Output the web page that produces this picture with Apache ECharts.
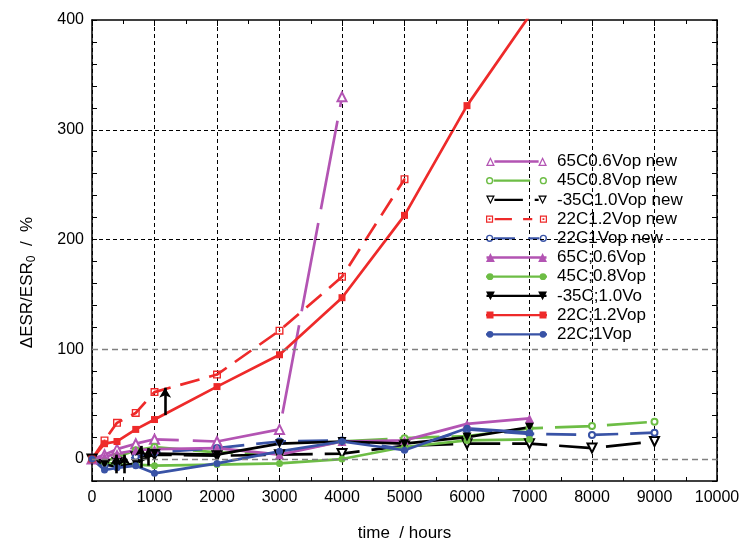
<!DOCTYPE html>
<html>
<head>
<meta charset="utf-8">
<script src="https://cdn.jsdelivr.net/npm/echarts@6/dist/echarts.min.js"></script>
<style>
  html, body { margin: 0; padding: 0; background: #fff; }
  #chart { width: 742px; height: 539px; }
</style>
</head>
<body>
<div id="chart"></div>
<script>
// ---- measured ESR change (%) versus ageing time (hours) ----
const hoursPurpleNew = [0, 200, 400, 700, 1000, 2000, 3000, 4000];
const esrPurpleNew   = [0, 4, 9, 14, 18, 16, 27, 330];

const hoursGreenNew = [0, 200, 400, 700, 1000, 2000, 3000, 4000, 5000, 6000, 7000, 8000, 9000];
const esrGreenNew   = [0, -3, 2, 8, 11, 6, 5, 16, 19, 21, 28, 30, 34];

const hoursBlackNew = [0, 200, 400, 700, 1000, 2000, 3000, 4000, 5000, 6000, 7000, 8000, 9000];
const esrBlackNew   = [0, -5, -3, 2, 4, 3, 4, 5, 12, 14, 14, 10, 16];

const hoursRedNew = [0, 200, 400, 700, 1000, 2000, 3000, 4000, 5000];
const esrRedNew   = [0, 17, 33, 42, 61, 77, 117, 166, 255];

const hoursBlueNew = [0, 200, 400, 700, 1000, 2000, 3000, 4000, 5000, 6000, 7000, 8000, 9000];
const esrBlueNew   = [0, -6, -4, 2, 6, 10, 16, 17, 9, 27, 23, 22, 24];

const hoursPurple = [0, 200, 400, 700, 1000, 2000, 3000, 4000, 5000, 6000, 7000];
const esrPurple   = [0, 2, 5, 8, 9, 10, 4, 16, 17, 32, 37];

const hoursGreen = [0, 200, 400, 700, 1000, 2000, 3000, 4000, 5000, 6000, 7000];
const esrGreen   = [0, -3, -5, -5, -6, -5, -4, 0, 11, 17, 18];

const hoursBlack = [0, 200, 400, 700, 1000, 2000, 3000, 4000, 5000, 6000, 7000];
const esrBlack   = [0, -5, -7, -4, 5, 4, 14, 16, 14, 20, 29];

const hoursRed = [0, 200, 400, 700, 1000, 2000, 3000, 4000, 5000, 6000, 7000];
const esrRed   = [0, 14, 16, 27, 36, 66, 95, 147, 222, 322, 404];

const hoursBlue = [0, 200, 400, 700, 1000, 2000, 3000, 4000, 5000, 6000, 7000];
const esrBlue   = [0, -10, -8, -6, -13, -4, 7, 16, 8, 28, 24];

// tick labels on the ESR axis
const esrTickLabels = [0, 100, 200, 300, 400];
// horizontal reference lines
const gridLevels = [0, 100, 200, 300];

// upward arrows marking readings
const arrowHours = [1170, 390, 520, 780, 900];
const arrowFrom  = [40, -13, -13, -8, -6];
const arrowTo    = [65, 4, 4, 12, 10];

const FONT = 'Liberation Sans, Arial, sans-serif';
const PURPLE = '#b354b3', GREEN = '#6dbd45', RED = '#ee2a2a', BLUE = '#3953a6', BLACK = '#000000';

// ---- legend icons: line sample with a marker at each end ----
function markerPath(kind, hollow, cx) {
  let p = '';
  if (kind === 'tri') {
    p = `M${cx-4.5} 9.5 L${cx} 0.5 L${cx+4.5} 9.5 Z`;
    if (hollow) p += ` M${cx-2.4} 8.3 L${cx+2.4} 8.3 L${cx} 3.2 Z`;
  } else if (kind === 'dtri') {
    p = `M${cx-4.5} 0.5 L${cx+4.5} 0.5 L${cx} 9.5 Z`;
    if (hollow) p += ` M${cx-2.4} 1.7 L${cx} 6.8 L${cx+2.4} 1.7 Z`;
  } else if (kind === 'sq') {
    p = `M${cx-3.5} 1.5 L${cx+3.5} 1.5 L${cx+3.5} 8.5 L${cx-3.5} 8.5 Z`;
    if (hollow) {
      p += ` M${cx-2.3} 2.7 L${cx-2.3} 7.3 L${cx+2.3} 7.3 L${cx+2.3} 2.7 Z`;
      p += ` M${cx-0.9} 4.1 L${cx+0.9} 4.1 L${cx+0.9} 5.9 L${cx-0.9} 5.9 Z`;
    }
  } else {
    const r = hollow ? 3.6 : 3.4;
    p = `M${cx-r} 5 A${r} ${r} 0 1 1 ${cx+r} 5 A${r} ${r} 0 1 1 ${cx-r} 5 Z`;
    if (hollow) {
      const q = 2.2;
      p += ` M${cx-q} 5 A${q} ${q} 0 1 0 ${cx+q} 5 A${q} ${q} 0 1 0 ${cx-q} 5 Z`;
    }
  }
  return p;
}
function legendIcon(kind, hollow, segments) {
  let p = '';
  segments.forEach(([a, b]) => { p += `M${a} 3.85 L${b} 3.85 L${b} 6.15 L${a} 6.15 Z `; });
  p += markerPath(kind, hollow, 4) + ' ' + markerPath(kind, hollow, 57);
  return 'path://' + p;
}

const squareDotSymbol = 'path://M0 0 L10 0 L10 10 L0 10 Z M1.7 1.7 L1.7 8.3 L8.3 8.3 L8.3 1.7 Z M3.9 3.9 L6.1 3.9 L6.1 6.1 L3.9 6.1 Z';

function lineSeries(name, hours, esr, color, symbol, size, dash, extra) {
  return Object.assign({
    name: name,
    type: 'line',
    data: hours.map((h, i) => [h, esr[i]]),
    symbol: symbol,
    symbolSize: size,
    showSymbol: true,
    clip: true,
    lineStyle: { color: color, width: 2.7, type: dash || 'solid' },
    itemStyle: { color: color, borderWidth: 1.4 },
    emphasis: { disabled: true },
    animation: false
  }, extra || {});
}

const series = [
  lineSeries('65C0.6Vop new', hoursPurpleNew, esrPurpleNew, PURPLE, 'emptyTriangle', 9, [90, 14], {
    markLine: {
      silent: true,
      symbol: ['none', 'none'],
      label: { show: false },
      emphasis: { disabled: true },
      animation: false,
      data: gridLevels.map(v => ({
        yAxis: v,
        lineStyle: v <= 100
          ? { color: '#808080', type: [6, 4], width: 1.3 }
          : { color: '#000000', type: [4, 3], width: 1 }
      }))
    }
  }),
  lineSeries('45C0.8Vop new', hoursGreenNew, esrGreenNew, GREEN, 'emptyCircle', 6, [40, 12]),
  lineSeries('-35C1.0Vop new', hoursBlackNew, esrBlackNew, BLACK, 'emptyTriangle', 9, [35, 12], { symbolRotate: 180 }),
  lineSeries('22C1.2Vop new', hoursRedNew, esrRedNew, RED, squareDotSymbol, 8, [20, 10], { itemStyle: { color: RED, borderWidth: 0 } }),
  lineSeries('22C1Vop new', hoursBlueNew, esrBlueNew, BLUE, 'emptyCircle', 6, [30, 12]),
  lineSeries('65C;0.6Vop', hoursPurple, esrPurple, PURPLE, 'triangle', 9),
  lineSeries('45C;0.8Vop', hoursGreen, esrGreen, GREEN, 'circle', 7),
  lineSeries('-35C;1.0Vo', hoursBlack, esrBlack, BLACK, 'triangle', 9, null, {
    symbolRotate: 180,
    markLine: {
      silent: true,
      label: { show: false },
      emphasis: { disabled: true },
      animation: false,
      symbolSize: [9, 10],
      lineStyle: { color: BLACK, width: 2.6, type: 'solid' },
      data: arrowHours.map((h, i) => [
        { coord: [h, arrowFrom[i]], symbol: 'none' },
        { coord: [h, arrowTo[i]], symbol: 'arrow' }
      ])
    }
  }),
  lineSeries('22C;1.2Vop', hoursRed, esrRed, RED, 'rect', 7),
  lineSeries('22C;1Vop', hoursBlue, esrBlue, BLUE, 'circle', 7)
];

const legendSpec = [
  ['65C0.6Vop new', PURPLE, 'tri', true, [[8, 53]]],
  ['45C0.8Vop new', GREEN, 'circ', true, [[8, 44]]],
  ['-35C1.0Vop new', BLACK, 'dtri', true, [[8, 37], [49, 53]]],
  ['22C1.2Vop new', RED, 'sq', true, [[9, 26], [37, 46]]],
  ['22C1Vop new', BLUE, 'circ', true, [[8, 29], [42, 53]]],
  ['65C;0.6Vop', PURPLE, 'tri', false, [[0, 61]]],
  ['45C;0.8Vop', GREEN, 'circ', false, [[0, 61]]],
  ['-35C;1.0Vo', BLACK, 'dtri', false, [[0, 61]]],
  ['22C;1.2Vop', RED, 'sq', false, [[0, 61]]],
  ['22C;1Vop', BLUE, 'circ', false, [[0, 61]]]
];

const axisLineStyle = { show: true, onZero: false, lineStyle: { color: '#000', width: 1.5 } };
// negative lengths point the ticks into the plot area
const majorTick = { inside: false, length: -6, lineStyle: { color: '#000', width: 1 } };
const minorTickX = { show: true, splitNumber: 2, length: -4, lineStyle: { color: '#000', width: 1 } };
const tickFont = { fontSize: 16, color: '#000', fontFamily: FONT };

const option = {
  backgroundColor: '#ffffff',
  animation: false,
  grid: { left: 92, right: 25, top: 20, bottom: 58, containLabel: false, outerBoundsMode: 'none' },
  legend: {
    orient: 'vertical',
    left: 486,
    top: 153,
    padding: 0,
    itemWidth: 61,
    itemHeight: 10,
    itemGap: 2.2,
    selectedMode: false,
    symbolKeepAspect: true,
    textStyle: { fontSize: 17, color: '#000', fontFamily: FONT, lineHeight: 17, padding: [0, 0, 0, 5] },
    data: legendSpec.map(([name, color, kind, hollow, segs]) => ({
      name: name,
      icon: legendIcon(kind, hollow, segs),
      itemStyle: { color: color, borderWidth: 0 }
    }))
  },
  xAxis: [
    {
      type: 'value', min: 0, max: 10000, interval: 1000, position: 'bottom',
      axisLine: axisLineStyle,
      axisTick: majorTick,
      minorTick: minorTickX,
      axisLabel: Object.assign({ margin: 9, formatter: v => String(v) }, tickFont),
      splitLine: { show: true, lineStyle: { color: '#000', type: [4, 3], width: 1 } },
      name: 'time  / hours', nameLocation: 'middle', nameGap: 44,
      nameTextStyle: { fontSize: 17, color: '#000', fontFamily: FONT }
    },
    {
      type: 'value', min: 0, max: 10000, interval: 1000, position: 'top',
      axisLine: axisLineStyle,
      axisTick: majorTick,
      minorTick: minorTickX,
      axisLabel: { show: false },
      splitLine: { show: false }
    }
  ],
  yAxis: [
    {
      type: 'value', min: -20, max: 400, interval: 20, position: 'left',
      axisLine: axisLineStyle,
      axisTick: { inside: false, length: -5, lineStyle: { color: '#000', width: 1 } },
      axisLabel: Object.assign({
        margin: 8,
        formatter: v => (esrTickLabels.indexOf(v) >= 0 ? String(v) : '')
      }, tickFont),
      splitLine: { show: false },
      name: 'ΔESR/ESR{sub|0}  /  %',
      nameLocation: 'middle',
      nameRotate: 90,
      nameGap: 54,
      nameTextStyle: {
        fontSize: 17, color: '#000', fontFamily: FONT,
        padding: [0, 64, 0, 0],
        rich: { sub: { fontSize: 12, fontFamily: FONT, color: '#000', padding: [10, 0, 0, 0] } }
      }
    },
    {
      type: 'value', min: -20, max: 400, interval: 20, position: 'right',
      axisLine: axisLineStyle,
      axisTick: { inside: false, length: -5, lineStyle: { color: '#000', width: 1 } },
      axisLabel: { show: false },
      splitLine: { show: false }
    }
  ],
  series: series
};

const chart = echarts.init(document.getElementById('chart'), null, { renderer: 'canvas' });
chart.setOption(option);
</script>
</body>
</html>
